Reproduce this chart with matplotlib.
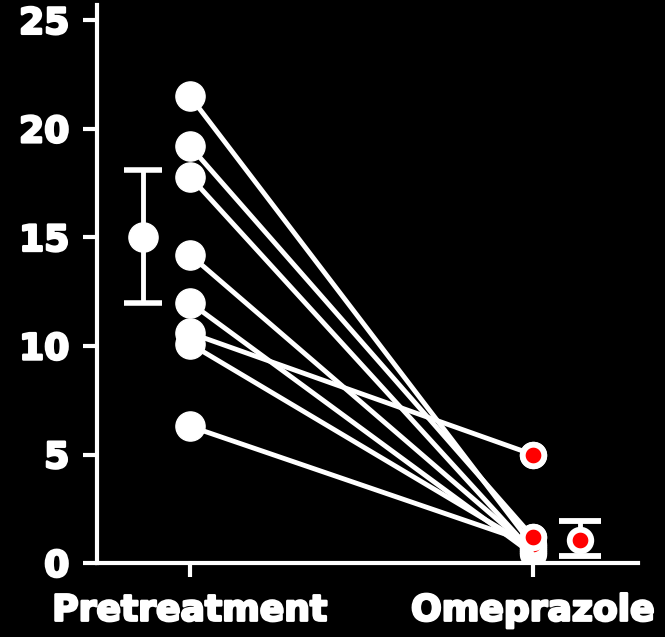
import numpy as np
import matplotlib.pyplot as plt
import matplotlib.patheffects as pe

# paired values, pretreatment -> omeprazole
pre = [21.5, 19.2, 17.8, 14.2, 12.0, 10.6, 10.1, 6.3]
ome = [0.8, 1.2, 0.5, 0.6, 0.4, 5.0, 0.7, 0.9]
groups = ["Pretreatment", "Omeprazole"]

pre_mean, pre_lo, pre_hi = 15.0, 12.0, 18.1
ome_mean, ome_lo, ome_hi = 1.06, 0.35, 1.94

fig = plt.figure(figsize=(6.65, 6.37), dpi=100, facecolor="black")
ax = fig.add_axes([0.146, 0.116, 0.813, 0.876], facecolor="black")

ring = dict(ms=15.5, mfc="red", mec="white", mew=4.2)

# omeprazole markers under lines
for a, b in zip(pre, ome):
    ax.plot([0, 1], [a, b], color="white", lw=3.5, solid_capstyle="butt", zorder=2)
ax.plot(np.ones(len(ome)), ome, "o", zorder=1, **ring)
ax.plot([1], [5.0], "o", zorder=3, **ring)
ax.plot([1], [1.2], "o", zorder=3, **ring)
ax.plot(np.zeros(len(pre)), pre, "o", ms=21, color="white", zorder=4)

# means with error bars
ax.errorbar([-0.137], [pre_mean], yerr=[[pre_mean - pre_lo], [pre_hi - pre_mean]],
            fmt="o", ms=21, color="white", ecolor="white", elinewidth=3.5, capsize=14, capthick=4)
ax.errorbar([1.137], [ome_mean], yerr=[[ome_mean - ome_lo], [ome_hi - ome_mean]],
            fmt="o", ecolor="white", elinewidth=3.5, capsize=15, capthick=4, **ring)

ax.set_xlim(-0.271, 1.306)
ax.set_ylim(0, 25.7)
ax.set_yticks([0, 5, 10, 15, 20, 25])
ax.set_xticks([0, 1])
ax.set_xticklabels(groups)

for s in ["top", "right"]:
    ax.spines[s].set_visible(False)
for s in ["left", "bottom"]:
    ax.spines[s].set_color("white")
    ax.spines[s].set_linewidth(3)

ax.tick_params(axis="both", colors="white", width=3, length=10, direction="out")
ax.tick_params(axis="y", pad=10)
ax.tick_params(axis="x", pad=12)
for lab in ax.get_xticklabels() + ax.get_yticklabels():
    lab.set_fontfamily("DejaVu Sans")
    lab.set_fontweight("bold")
    lab.set_fontsize(26)
    lab.set_color("white")
    lab.set_path_effects([pe.withStroke(linewidth=1.8, foreground="white")])

fig.savefig("out.png", dpi=100, facecolor="black")
